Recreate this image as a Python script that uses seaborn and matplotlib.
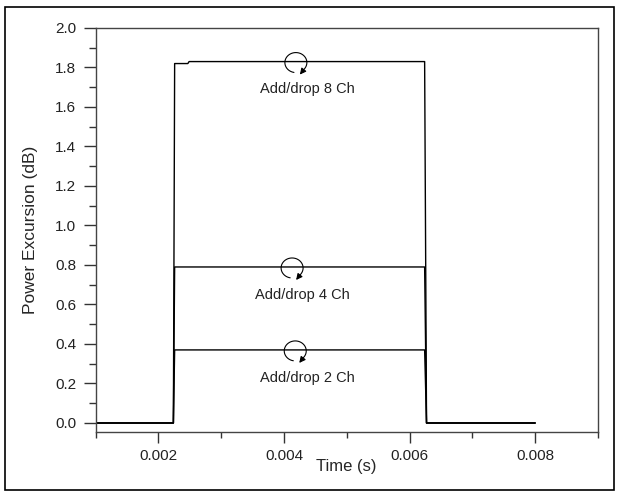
import numpy as np
import pandas as pd
import matplotlib
matplotlib.use("Agg")
import matplotlib.pyplot as plt
import seaborn as sns
from matplotlib.patches import FancyArrowPatch, Rectangle
from matplotlib.path import Path

# ---- data ----
time_s = [0.001, 0.00224, 0.00226, 0.00247, 0.00249, 0.00624, 0.00627, 0.008]
ch8 = [0.0, 0.0, 1.82, 1.82, 1.83, 1.83, 0.0, 0.0]
ch4 = [0.0, 0.0, 0.79, 0.79, 0.79, 0.79, 0.0, 0.0]
ch2 = [0.0, 0.0, 0.37, 0.37, 0.37, 0.37, 0.0, 0.0]
series_names = ["Add/drop 8 Ch", "Add/drop 4 Ch", "Add/drop 2 Ch"]
series_vals = [ch8, ch4, ch2]
label_x = [0.00438, 0.00430, 0.00437]
loop_x = [0.00419, 0.00413, 0.00418]
x_ticks = [0.002, 0.004, 0.006, 0.008]
y_ticks = [0.0, 0.2, 0.4, 0.6, 0.8, 1.0, 1.2, 1.4, 1.6, 1.8, 2.0]

df = pd.concat([
    pd.DataFrame({"Time": time_s, "Power": v, "Series": n})
    for n, v in zip(series_names, series_vals)
], ignore_index=True)

sns.set_style("ticks")
plt.rcParams["font.family"] = ["Liberation Sans", "DejaVu Sans"]
plt.rcParams["xtick.direction"] = "out"
plt.rcParams["ytick.direction"] = "out"

fig = plt.figure(figsize=(6.19, 4.95), dpi=100)
ax = fig.add_axes([95.5 / 619, 1 - 432 / 495, (598 - 95.5) / 619, (432 - 28) / 495])

sns.lineplot(data=df, x="Time", y="Power", hue="Series", units="Series",
             estimator=None, sort=False, palette=["black"] * 3,
             legend=False, linewidth=1.0, ax=ax)

ax.set_xlim(0.001, 0.009)
ax.set_ylim(-0.0456, 2.0)
ax.set_xticks(x_ticks)
ax.set_xticklabels([f"{t:.3f}" for t in x_ticks])
ax.set_xticks([0.001, 0.003, 0.005, 0.007, 0.009], minor=True)
ax.set_yticks(y_ticks)
ax.set_yticklabels([f"{t:.1f}" for t in y_ticks])
ax.set_yticks(np.arange(0.1, 2.0, 0.2), minor=True)

ax.tick_params(axis="both", which="major", labelsize=11, colors="#333333",
               labelcolor="#222222", width=1.0)
ax.tick_params(axis="x", which="major", length=8, pad=4)
ax.tick_params(axis="y", which="major", length=9, pad=5)
ax.tick_params(axis="x", which="minor", length=4.5, width=1.0, colors="#333333")
ax.tick_params(axis="y", which="minor", length=5, width=1.0, colors="#333333")
for s in ax.spines.values():
    s.set_color("#444444")
    s.set_linewidth(1.0)

ax.set_xlabel("Time (s)", fontsize=12, labelpad=-3)
ax.set_ylabel("Power Excursion (dB)", fontsize=12.5, labelpad=12)

# loop-arrow annotations and labels
def loop(ax, xc, yc):
    cx, cy = ax.transData.transform((xc, yc))
    t = np.linspace(np.deg2rad(-100), np.deg2rad(-400), 40)
    px = cx + 11 * np.cos(t)
    py = cy - 1 + 10 * np.sin(t)
    px = np.append(px, cx + 4)
    py = np.append(py, cy - 13)
    path = Path(np.column_stack([px, py]))
    arr = FancyArrowPatch(path=path, arrowstyle="-|>", mutation_scale=9,
                          color="black", lw=0.8, transform=None)
    ax.add_artist(arr)

for name, vals, lx, lpx in zip(series_names, series_vals, label_x, loop_x):
    lvl = vals[4]
    loop(ax, lpx, lvl)
    ax.annotate(name, xy=(lx, lvl), xytext=(0, -20), textcoords="offset points",
                ha="center", va="center", fontsize=10.5, color="#222222")

fig.patches.append(Rectangle((5 / 619, 1 - 490 / 495), 609 / 619, 483 / 495,
                             transform=fig.transFigure, fill=False,
                             edgecolor="black", linewidth=1.2))

fig.savefig("out.png", dpi=100)
